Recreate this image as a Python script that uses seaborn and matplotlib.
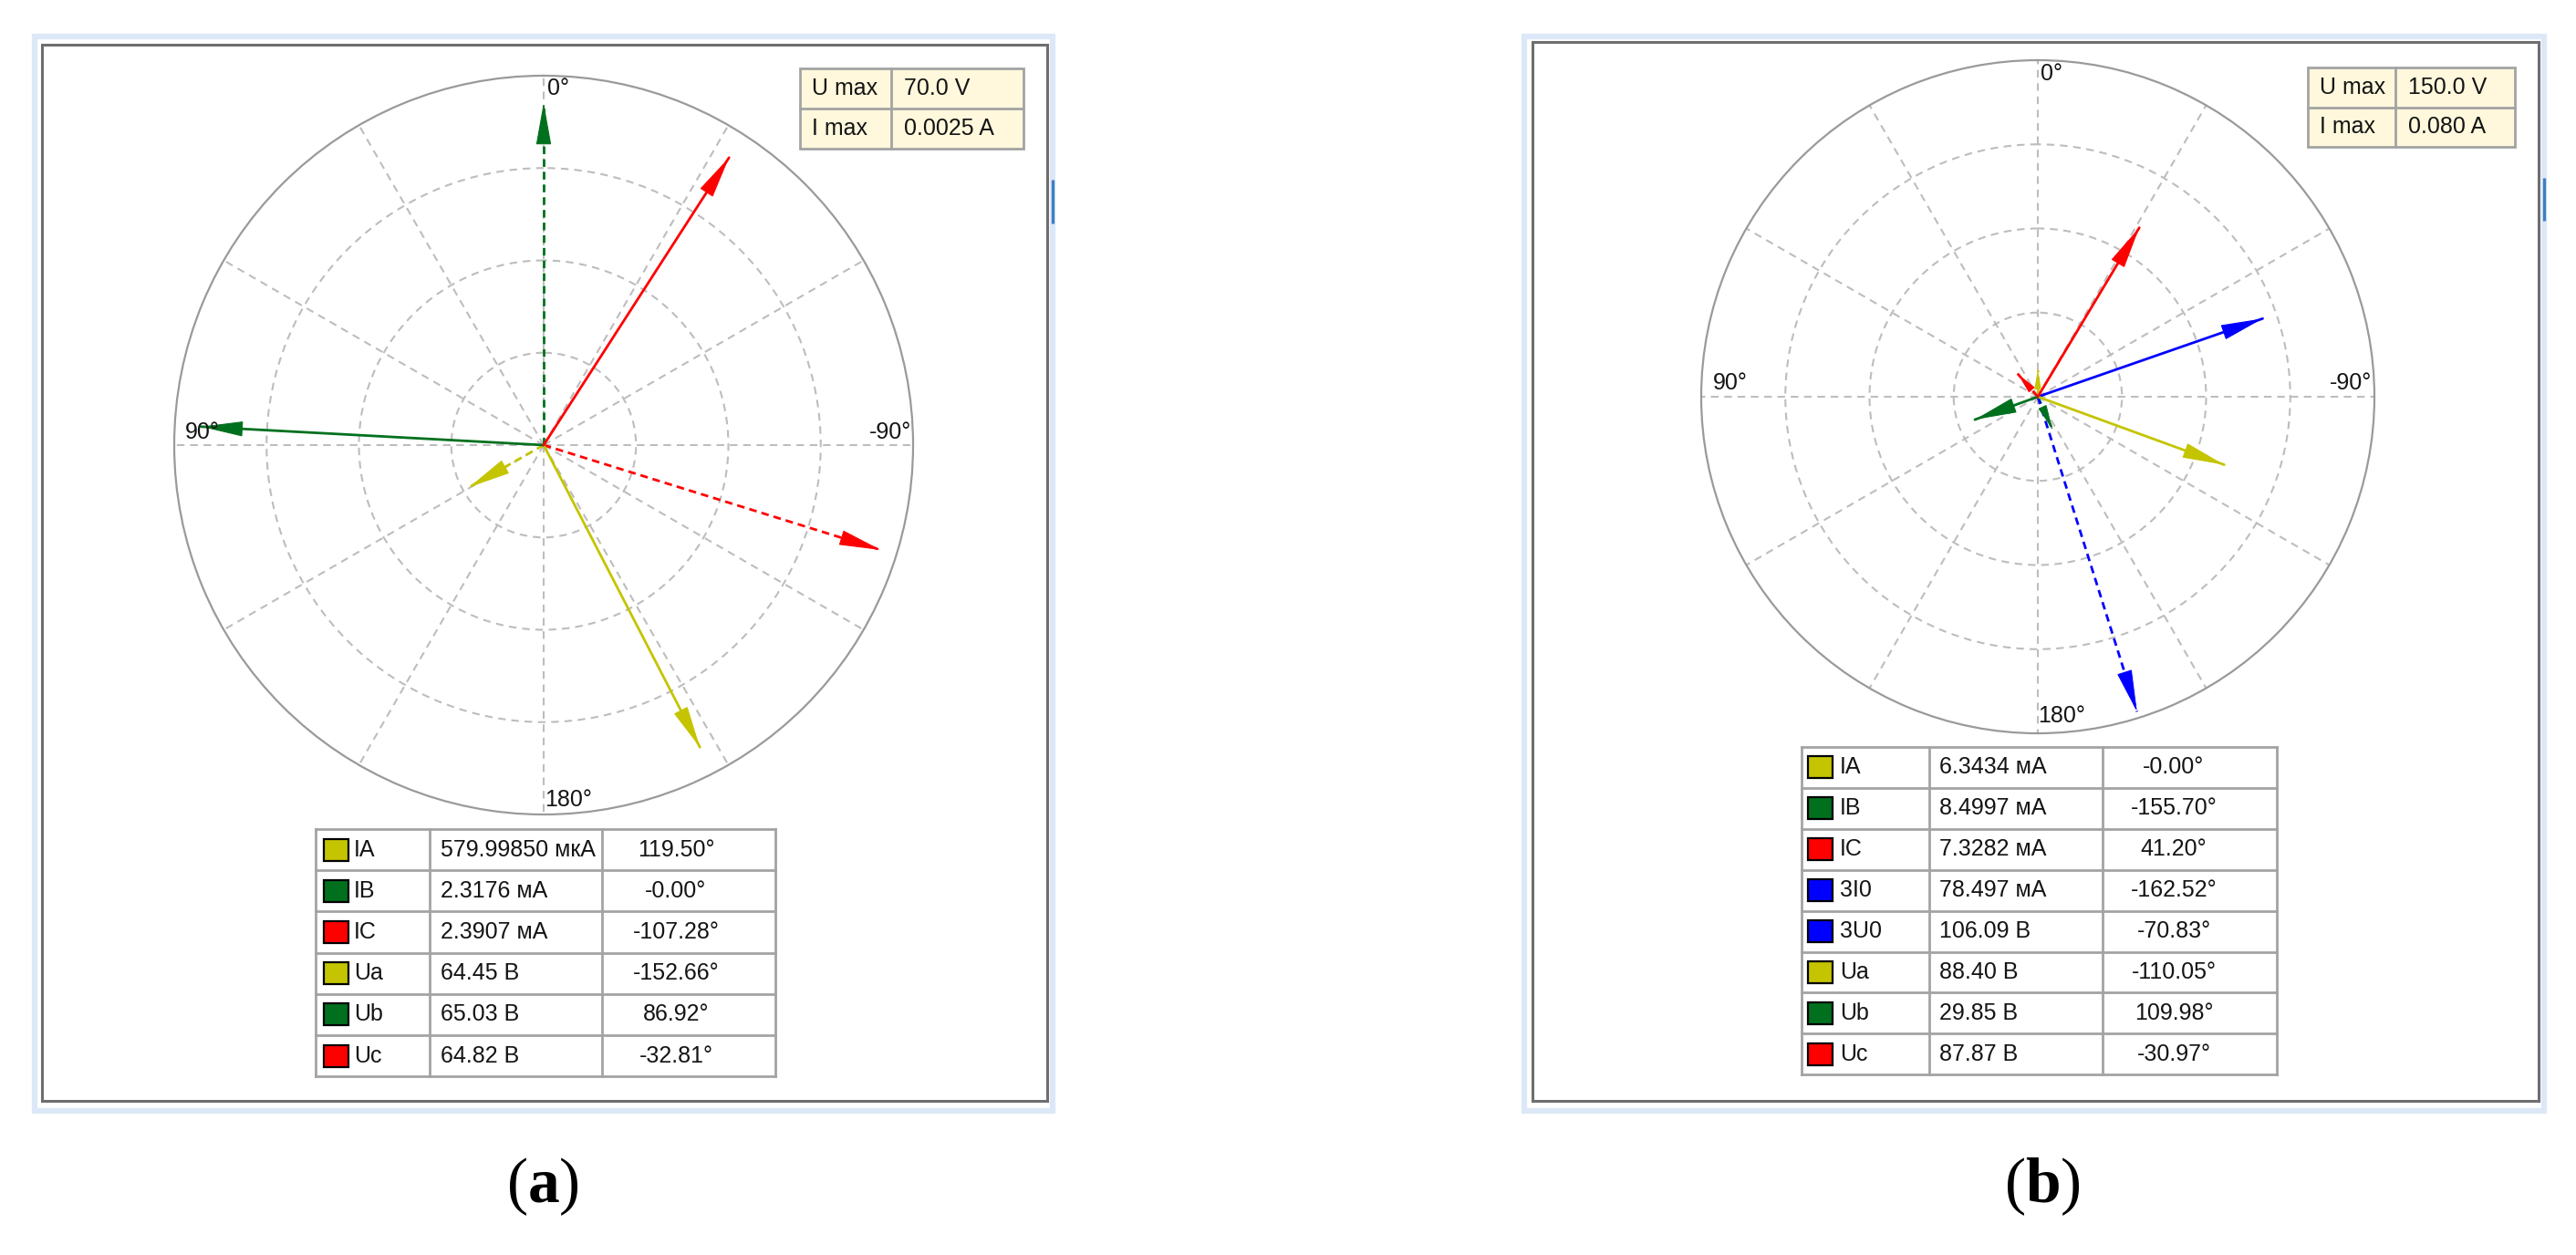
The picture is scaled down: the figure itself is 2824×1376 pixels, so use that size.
import numpy as np
import pandas as pd
import matplotlib
matplotlib.use("Agg")
import matplotlib.pyplot as plt
from matplotlib.patches import Rectangle
import seaborn as sns

# ---- values ----
names_a = ["IA", "IB", "IC", "Ua", "Ub", "Uc"]
values_a = ["579.99850", "2.3176", "2.3907", "64.45", "65.03", "64.82"]
units_a = ["мкА", "мА", "мА", "В", "В", "В"]
angles_a = [119.50, -0.00, -107.28, -152.66, 86.92, -32.81]
umax_a, imax_a = 70.0, 0.0025
limits_a = ["70.0 V", "0.0025 A"]

names_b = ["IA", "IB", "IC", "3I0", "3U0", "Ua", "Ub", "Uc"]
values_b = ["6.3434", "8.4997", "7.3282", "78.497", "106.09", "88.40", "29.85", "87.87"]
units_b = ["мА", "мА", "мА", "мА", "В", "В", "В", "В"]
angles_b = [-0.00, -155.70, 41.20, -162.52, -70.83, -110.05, 109.98, -30.97]
umax_b, imax_b = 150.0, 0.080
limits_b = ["150.0 V", "0.080 A"]

deg_labels = ["0°", "90°", "-90°", "180°"]
limit_names = ["U max", "I max"]

colors = {"IA": "#c4c400", "Ua": "#c4c400", "IB": "#00701e", "Ub": "#00701e",
          "IC": "#ff0000", "Uc": "#ff0000", "3I0": "#0000ff", "3U0": "#0000ff"}
unit_scale = {"мкА": 1e-6, "мА": 1e-3, "В": 1.0}

W, H = 2824, 1376
sns.set_theme(style="white")
plt.rcParams["font.family"] = ["Liberation Sans", "DejaVu Sans"]
plt.rcParams["mathtext.fontset"] = "custom"
plt.rcParams["mathtext.rm"] = "Liberation Serif"
plt.rcParams["mathtext.bf"] = "Liberation Serif:bold"

fig = plt.figure(figsize=(W / 100, H / 100), dpi=100)
bg = fig.add_axes([0, 0, 1, 1])
bg.set_xlim(0, W)
bg.set_ylim(H, 0)
bg.axis("off")

TXT = "#141414"
GRID = "#a3a3a3"
FS = 18


def draw_panel(names, values, units, angles, umax, imax, limits, lay):
    # window frame
    x0, y0, x1, y1 = lay["blue"]
    bg.add_patch(Rectangle((x0, y0), x1 - x0, y1 - y0, fill=False, ec="#dce8f7", lw=4.5))
    x0, y0, x1, y1 = lay["frame"]
    bg.add_patch(Rectangle((x0, y0), x1 - x0, y1 - y0, fill=False, ec="#6e6e6e", lw=2.2))
    tx, ty0, ty1 = lay["tab"]
    bg.plot([tx, tx], [ty0, ty1], color="#3d7fc1", lw=2.4, solid_capstyle="butt")

    # phasor diagram
    cx, cy, R = lay["circle"]
    ax = fig.add_axes([(cx - R) / W, 1 - (cy + R) / H, 2 * R / W, 2 * R / H],
                      projection="polar")
    ax.set_facecolor("none")
    ax.set_theta_zero_location("N")
    ax.set_theta_direction(1)

    rows = []
    for nm, v, u, a in zip(names, values, units, angles):
        current = u != "В"
        r = float(v) * unit_scale[u] / (imax if current else umax)
        th = np.radians(a)
        kind = "I" if current else "U"
        rows.append((nm, th, 0.0, kind))
        rows.append((nm, th, r, kind))
    df = pd.DataFrame(rows, columns=["name", "theta", "r", "kind"])

    sns.lineplot(data=df, x="theta", y="r", hue="name", units="name", style="kind",
                 estimator=None, sort=False, palette=colors,
                 dashes={"I": (3, 2), "U": ""}, lw=2.0, legend=False, ax=ax)

    tips = df[df["r"] > 0]
    for _, row in tips.iterrows():
        lpx = min(42.0, 0.6 * row["r"] * R)
        ax.annotate("", xy=(row["theta"], row["r"]), xytext=(row["theta"], row["r"] * 0.97),
                    arrowprops=dict(arrowstyle="-|>,head_length=1,head_width=0.18",
                                    mutation_scale=lpx / 1.389, color=colors[row["name"]],
                                    lw=0.8, shrinkA=0, shrinkB=0))

    ax.set_ylim(0, 1)
    ax.set_xticks(np.radians(np.arange(0, 360, 30)))
    ax.set_xticklabels([])
    ax.set_yticks([0.25, 0.5, 0.75])
    ax.set_yticklabels([])
    ax.grid(True, color="#bdbdbd", linestyle=(0, (4, 3)), lw=1.5)
    ax.spines["polar"].set_color("#9a9a9a")
    ax.spines["polar"].set_linewidth(1.6)
    ax.set_xlabel("")
    ax.set_ylabel("")
    ax.tick_params(length=0)

    for s, (px, py, ha) in zip(deg_labels, lay["deg"]):
        ax.text(px, py, s, transform=ax.transAxes, ha=ha, va="center",
                fontsize=FS, color=TXT)

    # U max / I max box
    bx0, by0, bsp, bx1, bh = lay["box"]
    bg.add_patch(Rectangle((bx0, by0), bx1 - bx0, 2 * bh, fc="#fff8dc", ec=GRID, lw=2))
    bg.plot([bx0, bx1], [by0 + bh] * 2, color=GRID, lw=2)
    bg.plot([bsp, bsp], [by0, by0 + 2 * bh], color=GRID, lw=2)
    for k, (ln, lv) in enumerate(zip(limit_names, limits)):
        yc = by0 + bh * (k + 0.5)
        bg.text(bx0 + 13, yc, ln, ha="left", va="center", fontsize=FS, color=TXT)
        bg.text(bsp + 14, yc, lv, ha="left", va="center", fontsize=FS, color=TXT)

    # values table
    t0, ty, c1, c2, t1, rh, sw, voff, acen = lay["table"]
    n = len(names)
    for i, (nm, v, u, a) in enumerate(zip(names, values, units, angles)):
        yc = ty + rh * (i + 0.5)
        bg.add_patch(Rectangle((t0 + sw, yc - 12), 27, 24, fc=colors[nm], ec="black", lw=1.6))
        bg.text(t0 + 42, yc, nm, ha="left", va="center", fontsize=FS, color=TXT)
        bg.text(c1 + voff, yc, f"{v} {u}", ha="left", va="center", fontsize=FS, color=TXT)
        bg.text(acen, yc, f"{a:.2f}°", ha="center", va="center", fontsize=FS, color=TXT)
    for k in range(n + 1):
        bg.plot([t0, t1], [ty + k * rh] * 2, color=GRID, lw=2, solid_capstyle="projecting")
    for xv in (t0, c1, c2, t1):
        bg.plot([xv, xv], [ty, ty + n * rh], color=GRID, lw=2, solid_capstyle="projecting")

    # caption
    bg.text(lay["caption"][0], lay["caption"][1], lay["caption"][2], ha="center",
            va="center", fontsize=50, family="Liberation Serif", color="black")


layout_a = {
    "blue": (37.5, 40, 1153.5, 1218),
    "frame": (46, 49, 1148, 1207),
    "tab": (1154, 197, 245),
    "circle": (596, 488, 405),
    "deg": [(0.505, 0.983, "left"), (0.015, 0.517, "left"),
            (0.998, 0.517, "right"), (0.502, 0.020, "left")],
    "box": (877, 75, 977, 1122, 44),
    "table": (346, 909, 471, 660, 850, 45.2, 9, 12, 741),
    "caption": (595, 1301, r"($\mathbf{a}$)"),
}
layout_b = {
    "blue": (1671, 40, 2789, 1218),
    "frame": (1680, 46, 2783, 1207),
    "tab": (2789, 195, 242),
    "circle": (2234, 435, 369),
    "deg": [(0.504, 0.980, "left"), (0.018, 0.520, "left"),
            (0.996, 0.520, "right"), (0.500, 0.026, "left")],
    "box": (2530, 74, 2626, 2757, 43.5),
    "table": (1975, 819, 2115, 2305, 2496, 44.9, 7, 11, 2383),
    "caption": (2239, 1301, r"($\mathbf{b}$)"),
}

draw_panel(names_a, values_a, units_a, angles_a, umax_a, imax_a, limits_a, layout_a)
draw_panel(names_b, values_b, units_b, angles_b, umax_b, imax_b, limits_b, layout_b)

fig.savefig("out.png", dpi=100)
